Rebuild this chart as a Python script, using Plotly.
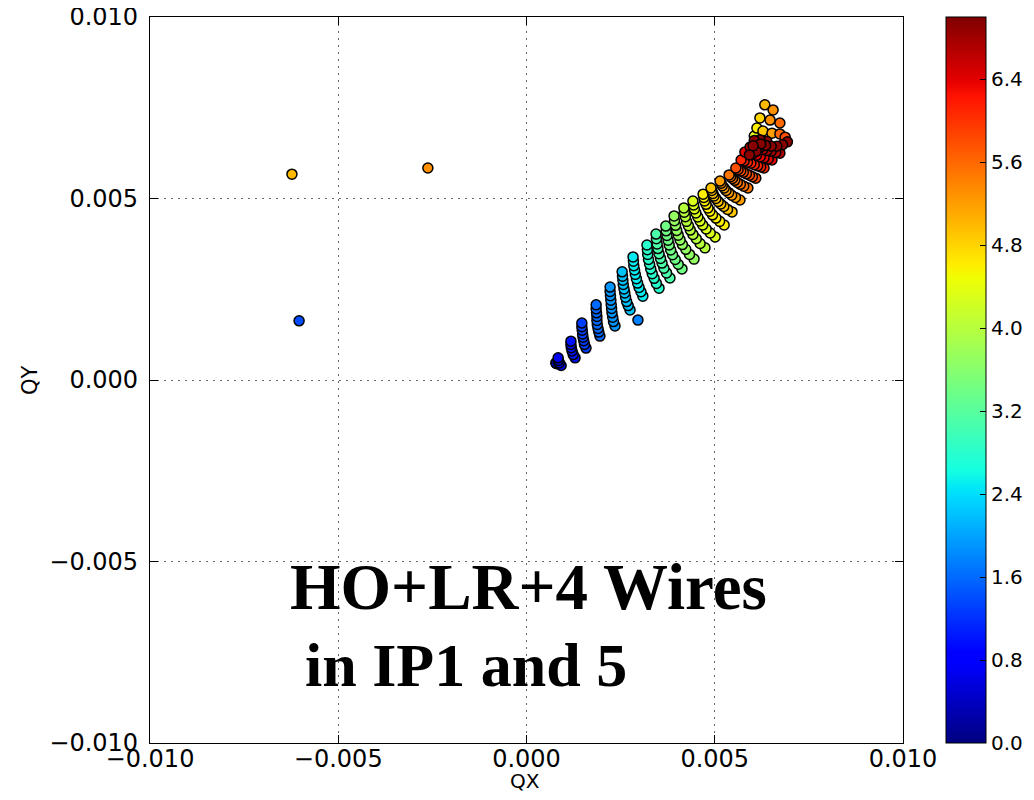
import plotly.graph_objects as go

# Tune footprint (values in units of 1e-3), one arc per amplitude (sigma)
ARC_AMP = [0.2, 0.7, 1.0, 1.3, 1.6, 1.9, 2.2, 2.5, 2.8, 3.1, 3.4, 3.7, 4.0, 4.3,
           4.6, 4.9, 5.2, 5.5, 5.8, 6.1, 6.4, 6.7, 6.95]
ARC_QX = [
    [0.78, 0.79, 0.80],
    [0.84, 0.85, 0.87, 0.92],
    [1.18, 1.18, 1.19, 1.21, 1.24, 1.29],
    [1.47, 1.47, 1.48, 1.49, 1.50, 1.52, 1.54, 1.58],
    [1.85, 1.85, 1.86, 1.87, 1.87, 1.88, 1.90, 1.92, 1.95],
    [2.22, 2.22, 2.23, 2.24, 2.25, 2.26, 2.27, 2.29, 2.31, 2.35],
    [2.54, 2.55, 2.56, 2.57, 2.59, 2.61, 2.63, 2.66, 2.70, 2.75],
    [2.83, 2.84, 2.85, 2.87, 2.89, 2.92, 2.95, 2.99, 3.04, 3.09],
    [3.20, 3.21, 3.22, 3.24, 3.27, 3.30, 3.34, 3.39, 3.45, 3.52],
    [3.44, 3.45, 3.47, 3.49, 3.52, 3.56, 3.60, 3.65, 3.72, 3.81],
    [3.70, 3.71, 3.73, 3.76, 3.79, 3.83, 3.88, 3.95, 4.03, 4.13],
    [3.92, 3.93, 3.96, 3.99, 4.03, 4.08, 4.14, 4.23, 4.33, 4.45],
    [4.18, 4.19, 4.22, 4.25, 4.30, 4.35, 4.42, 4.51, 4.61, 4.74],
    [4.42, 4.44, 4.46, 4.50, 4.55, 4.61, 4.68, 4.77, 4.88, 5.01],
    [4.69, 4.71, 4.73, 4.77, 4.82, 4.87, 4.94, 5.03, 5.13, 5.25],
    [4.90, 4.92, 4.95, 4.98, 5.03, 5.09, 5.16, 5.24, 5.34, 5.46],
    [5.14, 5.17, 5.20, 5.25, 5.30, 5.37, 5.45, 5.55, 5.67],
    [5.38, 5.42, 5.47, 5.53, 5.60, 5.68, 5.77, 5.88],
    [5.56, 5.62, 5.69, 5.76, 5.84, 5.92, 6.00, 6.09],
    [5.70, 5.78, 5.87, 5.96, 6.05, 6.14, 6.22, 6.31],
    [5.80, 5.90, 6.00, 6.11, 6.21, 6.31, 6.42, 6.52],
    [5.94, 6.05, 6.17, 6.28, 6.39, 6.50, 6.62, 6.73],
    [5.92, 6.02, 6.10, 6.22, 6.35, 6.50, 6.65, 6.80, 6.93, 6.05, 6.20, 6.38],
]
ARC_QY = [
    [0.47, 0.46, 0.45],
    [0.61, 0.54, 0.47, 0.40],
    [1.07, 0.98, 0.89, 0.80, 0.70, 0.61],
    [1.57, 1.47, 1.37, 1.27, 1.18, 1.08, 0.98, 0.88],
    [2.07, 1.96, 1.85, 1.75, 1.64, 1.53, 1.42, 1.32, 1.21],
    [2.56, 2.44, 2.32, 2.20, 2.08, 1.97, 1.85, 1.73, 1.61, 1.49],
    [2.98, 2.86, 2.75, 2.63, 2.51, 2.40, 2.28, 2.16, 2.05, 1.93],
    [3.39, 3.27, 3.15, 3.03, 2.91, 2.79, 2.67, 2.55, 2.43, 2.31],
    [3.72, 3.59, 3.46, 3.32, 3.19, 3.06, 2.93, 2.80, 2.66, 2.53],
    [4.02, 3.89, 3.75, 3.62, 3.48, 3.35, 3.22, 3.08, 2.95, 2.81],
    [4.24, 4.11, 3.98, 3.85, 3.72, 3.58, 3.45, 3.32, 3.19, 3.06],
    [4.52, 4.39, 4.26, 4.12, 3.99, 3.86, 3.73, 3.60, 3.46, 3.33],
    [4.74, 4.62, 4.50, 4.37, 4.25, 4.13, 4.01, 3.89, 3.76, 3.64],
    [4.93, 4.82, 4.71, 4.60, 4.49, 4.38, 4.27, 4.16, 4.05, 3.94],
    [5.12, 5.03, 4.93, 4.84, 4.74, 4.65, 4.55, 4.46, 4.37, 4.27],
    [5.29, 5.22, 5.14, 5.07, 5.00, 4.92, 4.85, 4.78, 4.70, 4.63],
    [5.48, 5.42, 5.35, 5.29, 5.22, 5.16, 5.09, 5.03, 4.96],
    [5.65, 5.60, 5.55, 5.50, 5.44, 5.39, 5.34, 5.29],
    [5.84, 5.80, 5.76, 5.72, 5.68, 5.64, 5.60, 5.56],
    [6.06, 6.03, 6.00, 5.97, 5.93, 5.90, 5.87, 5.84],
    [6.28, 6.25, 6.22, 6.19, 6.15, 6.12, 6.09, 6.06],
    [6.42, 6.40, 6.37, 6.35, 6.32, 6.30, 6.27, 6.25],
    [6.20, 6.45, 6.30, 6.50, 6.46, 6.44, 6.44, 6.48, 6.56, 6.60, 6.62, 6.58],
]

# Folded-back branch at the top of the footprint (units of 1e-3)
TOP_QX = [6.05, 6.12, 6.28, 6.52, 6.73, 6.87, 6.20, 6.47, 6.73, 6.33, 6.55]
TOP_QY = [6.72, 6.94, 6.86, 6.80, 6.78, 6.69, 7.22, 7.16, 7.08, 7.58, 7.44]
TOP_AMP = [4.4, 4.6, 4.9, 5.2, 5.6, 5.8, 4.8, 5.3, 5.6, 5.0, 5.3]

# Isolated points (units of 1e-3)
ISO_QX = [-6.23, -2.62, -6.04, 2.96]
ISO_QY = [5.67, 5.84, 1.63, 1.65]
ISO_AMP = [5.0, 5.3, 1.4, 1.75]

CBAR_TICKS = [0.0, 0.8, 1.6, 2.4, 3.2, 4.0, 4.8, 5.6, 6.4]
X_TICKS = [-0.010, -0.005, 0.0, 0.005, 0.010]
X_TICKTEXT = ["\u22120.010", "\u22120.005", "0.000", "0.005", "0.010"]
Y_TICKS = [-0.010, -0.005, 0.0, 0.005, 0.010]
Y_TICKTEXT = ["\u22120.010", "\u22120.005", "0.000", "0.005", "0.010"]

# assemble points: arcs drawn bottom-to-top, low amplitude first
pts = []
for a, xs, ys in zip(ARC_AMP, ARC_QX, ARC_QY):
    for x, y in reversed(list(zip(xs, ys))):
        pts.append((a, x, y))
for x, y, a in zip(TOP_QX, TOP_QY, TOP_AMP):
    pts.append((a, x, y))
for x, y, a in zip(ISO_QX, ISO_QY, ISO_AMP):
    pts.append((a, x, y))
pts.sort(key=lambda p: p[0])
amp = [p[0] for p in pts]
qx = [p[1] * 1e-3 for p in pts]
qy = [p[2] * 1e-3 for p in pts]

JET = [[0.0, 'rgb(0,0,128)'], [0.11, 'rgb(0,0,255)'], [0.125, 'rgb(0,0,255)'],
       [0.34, 'rgb(0,219,255)'], [0.35, 'rgb(0,229,247)'], [0.375, 'rgb(20,255,226)'],
       [0.64, 'rgb(239,255,4)'], [0.65, 'rgb(247,245,0)'], [0.66, 'rgb(255,236,0)'],
       [0.89, 'rgb(255,19,0)'], [0.91, 'rgb(232,0,0)'], [1.0, 'rgb(128,0,0)']]

FONT = "DejaVu Sans"
OFF = 8  # page body margin of the html page
W, H = 1034 - OFF, 800 - 2 * OFF
L, R, T, B = 150 - OFF, 903 - OFF, 17 - OFF, 743 - OFF
PW, PH = R - L, B - T


def xp(px):
    return (px - OFF - L) / PW


def yp(py):
    return (B - (py - OFF)) / PH


fig = go.Figure(go.Scatter(
    x=qx, y=qy, mode='markers',
    marker=dict(
        color=amp, colorscale=JET, cmin=0, cmax=7.0, size=10,
        line=dict(color='black', width=1.5),
        colorbar=dict(
            x=xp(946), xanchor='left', y=0.5, yanchor='middle',
            len=1.0, lenmode='fraction', thickness=40, thicknessmode='pixels',
            outlinecolor='black', outlinewidth=1,
            tickvals=CBAR_TICKS, ticktext=[f"{v:.1f}" for v in CBAR_TICKS],
            ticks='inside', ticklen=6, tickcolor='black',
            tickfont=dict(family=FONT, size=20, color='black'),
            ticklabeloverflow='allow',
            xpad=0, ypad=0,
        ),
    ),
    showlegend=False,
))

axis_common = dict(
    showgrid=True, gridcolor='#666', griddash='2px,5px', gridwidth=1,
    zeroline=False, showline=True, linecolor='black', linewidth=1.2,
    mirror='allticks', ticks='inside', ticklen=8, tickcolor='black',
    tickfont=dict(family=FONT, size=24, color='black'),
    ticklabeloverflow='allow',
)

fig.update_xaxes(range=[-0.01, 0.01], tickvals=X_TICKS, ticktext=X_TICKTEXT,
                 ticklabelstandoff=-6, **axis_common)
fig.update_yaxes(range=[-0.01, 0.01], tickvals=Y_TICKS, ticktext=Y_TICKTEXT,
                 ticklabelstandoff=6, **axis_common)

# axis titles
fig.add_annotation(text="QX", xref='paper', yref='paper',
                   x=xp(525), y=yp(781), xanchor='center', yanchor='middle',
                   showarrow=False, font=dict(family=FONT, size=20, color='black'))
fig.add_annotation(text="QY", xref='paper', yref='paper', textangle=-90,
                   x=xp(30), y=yp(380), xanchor='center', yanchor='middle',
                   showarrow=False, font=dict(family=FONT, size=21, color='black'))

fig.add_annotation(text="<b>HO+LR+4 Wires</b>", xref='paper', yref='paper',
                   x=xp(288), y=yp(587), xanchor='left', yanchor='middle',
                   showarrow=False, font=dict(family="Liberation Serif", size=65, color='black'))
fig.add_annotation(text="<b>in IP1 and 5</b>", xref='paper', yref='paper',
                   x=xp(303), y=yp(665), xanchor='left', yanchor='middle',
                   showarrow=False, font=dict(family="Liberation Serif", size=62, color='black'))

fig.update_layout(
    width=W, height=H, autosize=False,
    margin=dict(l=L, r=W - R, t=T, b=H - B, autoexpand=False),
    plot_bgcolor='white', paper_bgcolor='white',
)

fig.write_html("out.html")
